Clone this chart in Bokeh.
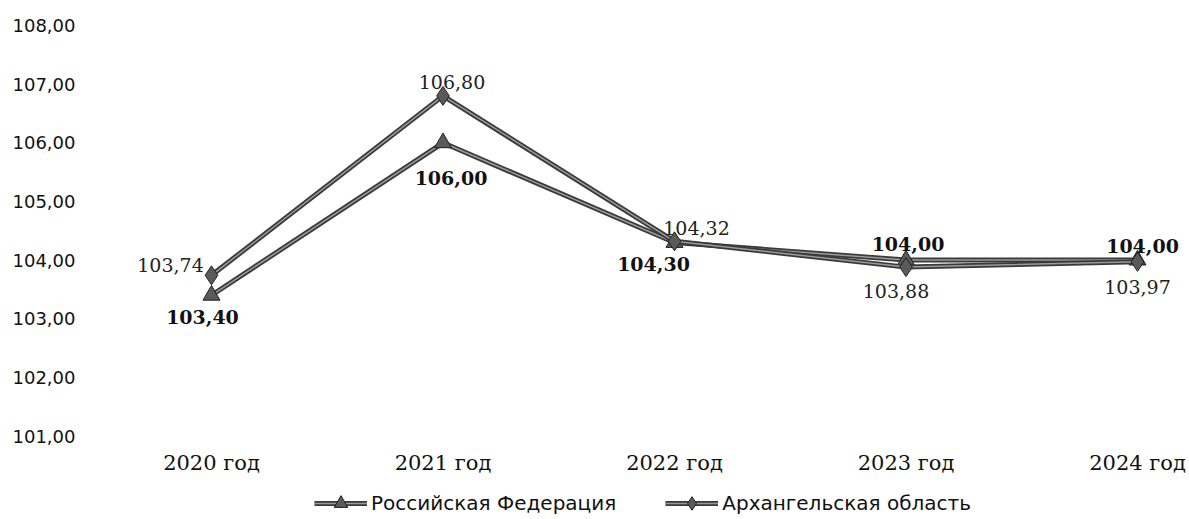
from bokeh.plotting import figure
from bokeh.layouts import column
from bokeh.models import ColumnDataSource, FixedTicker, Range1d, Legend, LegendItem
from bokeh.core.properties import value
from bokeh.embed import file_html
from bokeh.resources import INLINE

# ---- data ----
years = ["2020 год", "2021 год", "2022 год", "2023 год", "2024 год"]
rf_values = [103.40, 106.00, 104.30, 104.00, 104.00]
arkh_values = [103.74, 106.80, 104.32, 103.88, 103.97]
rf_name = "Российская Федерация"
arkh_name = "Архангельская область"
y_ticks = [101, 102, 103, 104, 105, 106, 107, 108]

def fmt(v):
    return f"{v:.2f}".replace(".", ",")

# label offsets (screen px, positive y = down)
rf_dx = [-9, 8, -21, 2, 5]
rf_dy = [22, 35, 22, -16, -14]
arkh_dx = [-41, 9, 22, -10, 0]
arkh_dy = [-10, -14, -13, 24, 25]

xs = list(range(len(years)))
rf_src = ColumnDataSource(dict(x=xs, y=rf_values, t=[fmt(v) for v in rf_values], dx=rf_dx, dy=rf_dy))
ar_src = ColumnDataSource(dict(x=xs, y=arkh_values, t=[fmt(v) for v in arkh_values], dx=arkh_dx, dy=arkh_dy))

W = 1186
p = figure(width=W, height=477, output_backend="svg", toolbar_location=None,
           x_range=Range1d(-0.501, 4.190), y_range=Range1d(100.804, 108.222),
           min_border_left=95, min_border_right=5, min_border_top=12, min_border_bottom=30)
p.outline_line_color = None
p.xgrid.visible = False
p.ygrid.visible = False

# y axis
p.yaxis.ticker = FixedTicker(ticks=y_ticks)
p.yaxis.major_label_overrides = {t: fmt(t) for t in y_ticks}
p.yaxis.axis_line_color = None
p.yaxis.major_tick_line_color = None
p.yaxis.minor_tick_line_color = None
p.yaxis.major_tick_out = 0
p.yaxis.major_tick_in = 0
p.yaxis.major_label_standoff = 20
p.yaxis.major_label_text_font = "DejaVu Sans"
p.yaxis.major_label_text_font_size = "18px"
p.yaxis.major_label_text_color = "#111111"

# x axis
p.xaxis.ticker = FixedTicker(ticks=xs)
p.xaxis.major_label_overrides = {i: y for i, y in enumerate(years)}
p.xaxis.axis_line_color = None
p.xaxis.major_tick_line_color = None
p.xaxis.minor_tick_line_color = None
p.xaxis.major_tick_out = 0
p.xaxis.major_tick_in = 0
p.xaxis.major_label_standoff = 3
p.xaxis.major_label_text_font = "DejaVu Serif"
p.xaxis.major_label_text_font_size = "21px"
p.xaxis.major_label_text_color = "#111111"

dark = "#3a3a3a"
light = "#9a9a9a"
mfill = "#5a5a5a"

def draw_series(fig, src, marker, msize):
    l1 = fig.line("x", "y", source=src, line_color=dark, line_width=5)
    l2 = fig.line("x", "y", source=src, line_color=light, line_width=1.5)
    m = fig.scatter("x", "y", source=src, marker=marker, size=msize,
                    fill_color=mfill, line_color="#222222", line_width=1)
    return [l1, l2, m]

draw_series(p, rf_src, "triangle", 17)
draw_series(p, ar_src, "diamond", 19)

# data labels
p.text("x", "y", text="t", source=rf_src, x_offset="dx", y_offset="dy",
       text_align="center", text_baseline="middle", text_font=value("DejaVu Serif"),
       text_font_size="19px", text_font_style="bold", text_color="#111111")
p.text("x", "y", text="t", source=ar_src, x_offset="dx", y_offset="dy",
       text_align="center", text_baseline="middle", text_font=value("DejaVu Serif"),
       text_font_size="19px", text_color="#222222")

# legend strip (separate small figure below the chart; series drawn off-view
# there so that the legend shows their line + marker swatches)
lg = figure(width=W, height=39, output_backend="svg", toolbar_location=None,
            x_range=Range1d(-10, -9), y_range=Range1d(-10, -9),
            min_border_left=0, min_border_right=0, min_border_top=0, min_border_bottom=0)
lg.axis.visible = False
lg.grid.visible = False
lg.outline_line_color = None
rf_r = draw_series(lg, rf_src, "triangle", 17)
ar_r = draw_series(lg, ar_src, "diamond", 19)

legend = Legend(items=[LegendItem(label=rf_name, renderers=rf_r),
                       LegendItem(label=arkh_name, renderers=ar_r)],
                orientation="horizontal", location=(219, -4),
                glyph_width=53, glyph_height=34, label_standoff=4, spacing=49,
                padding=0, margin=0, border_line_color=None, background_fill_alpha=0,
                label_text_font="DejaVu Sans", label_text_font_size="20px",
                label_text_color="#111111")
lg.add_layout(legend, "center")

layout = column(p, lg, spacing=0)
open("out.html", "w").write(file_html(layout, INLINE))
